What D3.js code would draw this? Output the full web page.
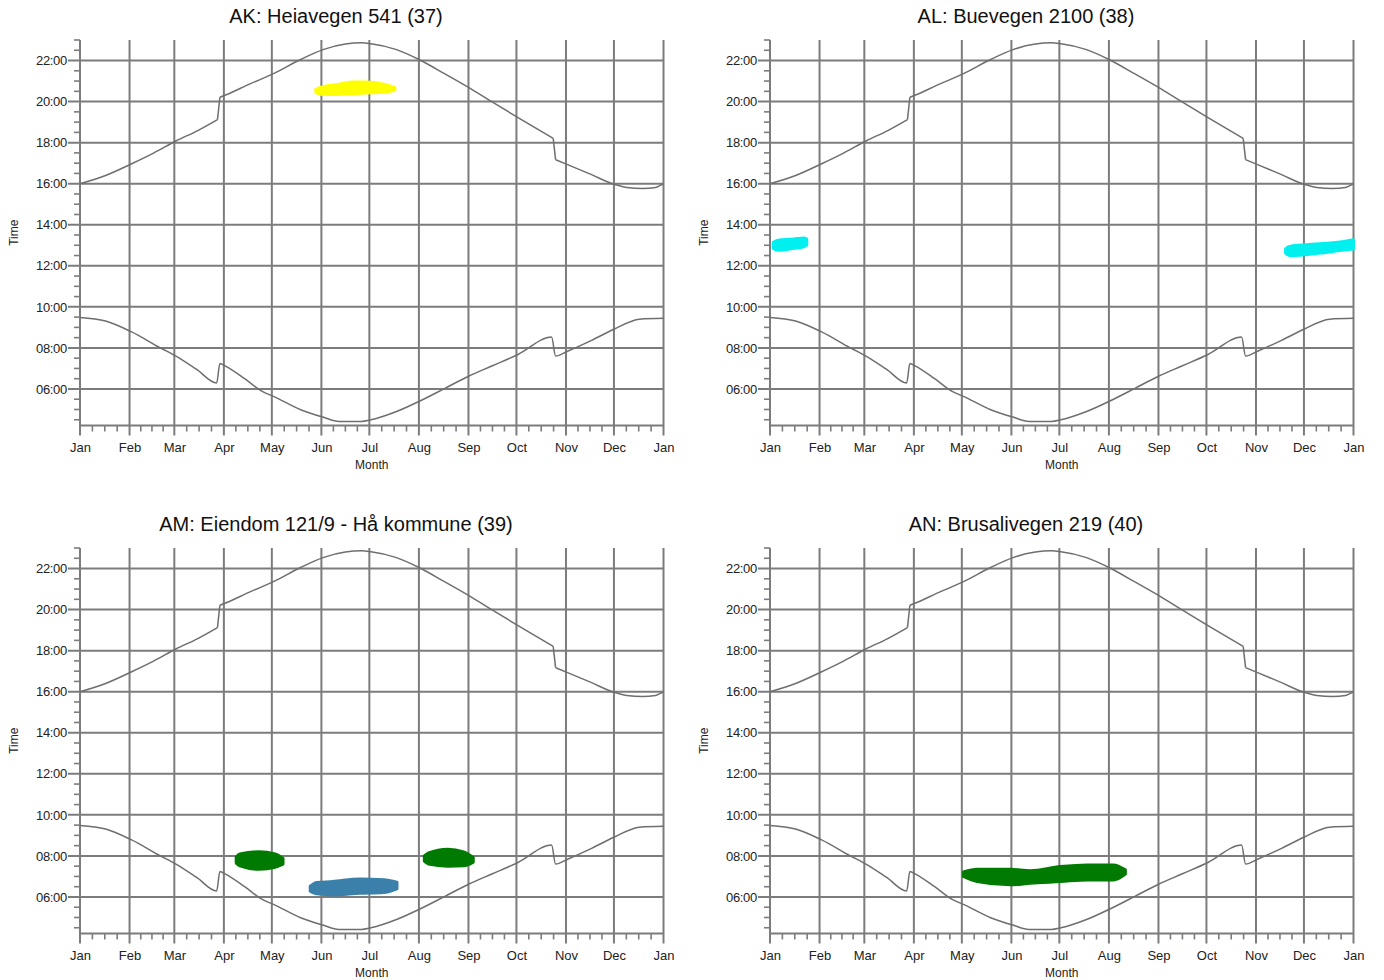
<!DOCTYPE html>
<html><head><meta charset="utf-8">
<script src="https://cdn.jsdelivr.net/npm/d3@7"></script>
<style>
body{margin:0;background:#fff;}
svg text{font-family:"Liberation Sans",Arial,sans-serif;}
</style></head>
<body><svg id="c" width="1384" height="980"></svg>
<script>
// ---- data ----
const monthLabels = ["Jan","Feb","Mar","Apr","May","Jun","Jul","Aug","Sep","Oct","Nov","Dec","Jan"];
const monthStarts = [0,31,59,90,120,151,181,212,243,273,304,334,365];
const yMajorTicks = [6,8,10,12,14,16,18,20,22];
const panelTitles = ["AK: Heiavegen 541 (37)","AL: Buevegen 2100 (38)","AM: Eiendom 121/9 - Hå kommune (39)","AN: Brusalivegen 219 (40)"];
// sunset curve [day, hour]
const sunset = [[0,16.00],[16,16.40],[32,16.96],[46,17.49],[60,18.08],[74,18.60],[86,19.12],[87.5,20.21],[91,20.32],[106,20.85],[121,21.36],[138,22.05],[152,22.53],[166,22.80],[176,22.86],[182,22.82],[198,22.53],[212,22.05],[228,21.36],[243,20.69],[257,20.02],[274,19.22],[296,18.21],[297.5,17.17],[305,16.93],[320,16.44],[334,15.97],[342,15.82],[352,15.77],[360,15.82],[365,16.00]];
// sunrise curve [day, hour]
const sunrise = [[0,9.48],[16,9.31],[32,8.79],[50,8.01],[60,7.60],[73,6.95],[85.5,6.29],[87.5,7.24],[91,7.11],[103,6.50],[114,5.88],[121,5.64],[138,4.99],[152,4.63],[162,4.42],[176,4.42],[182,4.50],[198,4.90],[212,5.39],[228,6.02],[243,6.62],[258,7.13],[274,7.68],[295,8.53],[297.5,7.60],[305,7.84],[320,8.37],[334,8.91],[350,9.40],[365,9.44]];
// shadow blobs [day, lowHour, highHour]
const blobAK = [[147.5,20.46,20.6],[150,20.36,20.68],[162,20.34,20.85],[170,20.38,20.95],[178,20.42,20.96],[190,20.45,20.85],[197,20.56,20.68]];
const blobAL1 = [[2,12.85,13.15],[5,12.76,13.25],[15,12.85,13.3],[21,12.92,13.36],[23,13.02,13.3]];
const blobAL2 = [[322.5,12.62,12.82],[325,12.5,12.94],[344,12.62,13.07],[360,12.78,13.2],[365,12.82,13.27]];
const blobAM1 = [[97.7,7.65,7.95],[100,7.52,8.1],[112,7.35,8.2],[122,7.45,8.1],[127,7.6,7.88]];
const blobAM2 = [[215.4,7.74,8.0],[218,7.6,8.15],[230,7.5,8.33],[240,7.52,8.2],[246,7.7,7.92]];
const blobAM3 = [[144,6.28,6.52],[148,6.15,6.7],[158,6.1,6.75],[175,6.18,6.88],[190,6.22,6.84],[198.3,6.4,6.72]];
const blobAN = [[121,7.0,7.22],[129.6,6.75,7.35],[150.3,6.59,7.35],[162.8,6.67,7.28],[181.6,6.75,7.48],[198.5,6.83,7.56],[214.8,6.83,7.56],[222.3,7.12,7.32]];

const panelBlobs = [
  [{d:blobAK,c:"#ffff00"}],
  [{d:blobAL1,c:"#00f0f0"},{d:blobAL2,c:"#00f0f0"}],
  [{d:blobAM1,c:"#007a00"},{d:blobAM2,c:"#007a00"},{d:blobAM3,c:"#3a80aa"}],
  [{d:blobAN,c:"#007a00"}]
];
const offsets = [[0,0],[690,0],[0,508],[690,508]];

const svg = d3.select("#c");
const gridColor = "#7c7c7c";
const fmt = h => (h<10?"0":"")+h+":00";

// split a curve at clock-change jumps (points closer than 2 days)
function splitSegments(s){
  const segs=[[s[0]]];
  for(let k=1;k<s.length;k++){
    if(s[k][0]-s[k-1][0]<2){segs.push([s[k]]);}
    else segs[segs.length-1].push(s[k]);
  }
  return segs;
}

panelTitles.forEach((title,i)=>{
  const [ox,oy] = offsets[i];
  const g = svg.append("g");
  const x = d3.scaleLinear().domain([0,365]).range([80+ox,663.5+ox]);
  const y = d3.scaleLinear().domain([4.22,23]).range([425.5+oy,40+oy]);
  const [x0,x1] = x.range(), [yb,yt] = y.range();

  // minor ticks
  const minorX = [];
  for(let m=0;m<12;m++){const a=monthStarts[m],b=monthStarts[m+1];for(let k=1;k<4;k++)minorX.push(a+(b-a)*k/4);}
  g.append("g").selectAll("line").data(minorX).join("line")
    .attr("x1",d=>x(d)).attr("x2",d=>x(d)).attr("y1",yb).attr("y2",yb+6)
    .attr("stroke",gridColor).attr("stroke-width",1.6);
  const minorY = d3.range(4.5,23.01,0.5).filter(v=>!yMajorTicks.includes(v));
  g.append("g").selectAll("line").data(minorY).join("line")
    .attr("x1",x0-6).attr("x2",x0).attr("y1",d=>y(d)).attr("y2",d=>y(d))
    .attr("stroke",gridColor).attr("stroke-width",1.6);

  // grid lines
  g.append("g").selectAll("line").data(monthStarts).join("line")
    .attr("x1",d=>x(d)).attr("x2",d=>x(d)).attr("y1",yt).attr("y2",yb+10)
    .attr("stroke",gridColor).attr("stroke-width",2);
  g.append("g").selectAll("line").data(yMajorTicks).join("line")
    .attr("x1",x0-12).attr("x2",x1).attr("y1",d=>y(d)).attr("y2",d=>y(d))
    .attr("stroke",gridColor).attr("stroke-width",2);
  g.append("line").attr("x1",x0).attr("x2",x1).attr("y1",yb).attr("y2",yb)
    .attr("stroke",gridColor).attr("stroke-width",2);

  // axes labels via d3 axes
  const ax = g.append("g").attr("transform",`translate(0,${yb})`)
    .call(d3.axisBottom(x).tickValues(monthStarts).tickSize(0).tickPadding(17)
      .tickFormat((d,j)=>monthLabels[j]));
  ax.select(".domain").remove();
  ax.selectAll("text").attr("font-size",13).attr("fill","#222").attr("font-family","Liberation Sans, Arial, sans-serif");
  const ay = g.append("g").attr("transform",`translate(${x0},0)`)
    .call(d3.axisLeft(y).tickValues(yMajorTicks).tickSize(0).tickPadding(13).tickFormat(fmt));
  ay.select(".domain").remove();
  ay.selectAll("text").attr("font-size",13).attr("fill","#222").attr("font-family","Liberation Sans, Arial, sans-serif").attr("letter-spacing","-0.3");

  // blobs
  const area = d3.area().x(d=>x(d[0])).y0(d=>y(d[1])).y1(d=>y(d[2])).curve(d3.curveMonotoneX);
  panelBlobs[i].forEach(b=>{
    g.append("path").attr("d",area(b.d)).attr("fill",b.c).attr("stroke",b.c).attr("stroke-width",3).attr("stroke-linejoin","round");
  });

  // sun curves: smooth segments plus straight clock-change jumps
  const line = d3.line().x(d=>x(d[0])).y(d=>y(d[1])).curve(d3.curveMonotoneX);
  const straight = d3.line().x(d=>x(d[0])).y(d=>y(d[1]));
  [sunset,sunrise].forEach(s=>{
    const segs = splitSegments(s);
    segs.forEach((seg,k)=>{
      g.append("path").attr("d",line(seg)).attr("fill","none").attr("stroke","#6e6e6e").attr("stroke-width",1.5);
      if(k>0){
        const prev = segs[k-1][segs[k-1].length-1];
        g.append("path").attr("d",straight([prev,seg[0]])).attr("fill","none").attr("stroke","#6e6e6e").attr("stroke-width",1.5);
      }
    });
  });

  // titles
  g.append("text").attr("x",336+ox).attr("y",23+oy).attr("text-anchor","middle")
    .attr("font-size",20).attr("fill","#111").text(title);
  g.append("text").attr("x",(x0+x1)/2).attr("y",yb+43).attr("text-anchor","middle")
    .attr("font-size",12).attr("fill","#222").text("Month");
  g.append("text").attr("transform",`translate(${18+ox},${(yt+yb)/2}) rotate(-90)`)
    .attr("text-anchor","middle").attr("font-size",12).attr("fill","#222").text("Time");
});
</script></body></html>
